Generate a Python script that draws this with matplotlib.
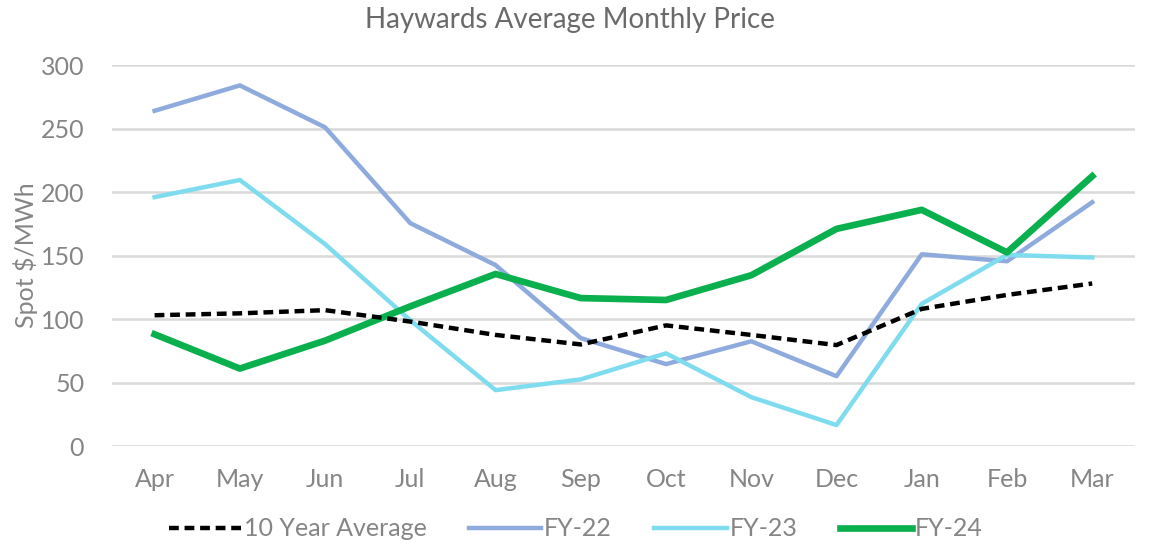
import matplotlib
matplotlib.use("Agg")
import matplotlib.pyplot as plt

months = ['Apr', 'May', 'Jun', 'Jul', 'Aug', 'Sep', 'Oct', 'Nov', 'Dec', 'Jan', 'Feb', 'Mar']
avg_10yr = [103, 104.5, 107, 98, 87.5, 80, 95, 87.5, 79.5, 108, 119, 128]
fy22 = [264, 284, 251, 175.5, 142.5, 85, 64.5, 82.5, 55, 151, 145.5, 192]
fy23 = [196, 209.5, 159, 99, 44, 52.5, 73, 38.5, 16.5, 112, 150.5, 148.5]
fy24 = [88, 61, 83, 110, 135.5, 116.5, 115, 134.5, 171, 186, 152.5, 212.5]

txt = '#858585'
plt.rcParams['font.family'] = ['Lato', 'DejaVu Sans']

fig = plt.figure(figsize=(11.58, 5.47), dpi=100)
ax = fig.add_axes([0.0967, 0.1846, 0.8833, 0.6964])

x = range(len(months))
ax.plot(x, fy22, color='#8FAADC', lw=3.2, label='FY-22', zorder=3)
ax.plot(x, fy23, color='#7FDCEE', lw=3.2, label='FY-23', zorder=3)
ax.plot(x, fy24, color='#0AB04E', lw=4.8, label='FY-24', zorder=4)
ax.plot(x, avg_10yr, color='black', lw=3.2, ls=(0, (2.2, 1.3)), label='10 Year Average', zorder=5)

ax.set_xlim(-0.5, 11.5)
ax.set_ylim(0, 300)
ax.set_yticks(range(0, 301, 50))
ax.set_xticks(list(x))
ax.set_xticklabels(months)
ax.grid(axis='y', color='#d9d9d9', lw=1.8)
ax.set_axisbelow(True)
for s in ax.spines.values():
    s.set_visible(False)
ax.tick_params(length=0, labelsize=18, colors=txt, pad=16)
ax.tick_params(axis='y', pad=20)

ax.set_ylabel('Spot $/MWh', fontsize=18, color=txt)
ax.yaxis.set_label_coords(-0.072, 0.5)
fig.text(0.492, 0.964, 'Haywards Average Monthly Price', ha='center', va='center',
         fontsize=20, color='#6a6a6a')

h, l = ax.get_legend_handles_labels()
order = [3, 0, 1, 2]
leg = fig.legend([h[i] for i in order], [l[i] for i in order], loc='center',
                 bbox_to_anchor=(0.497, 0.033), ncol=4, frameon=False,
                 fontsize=18, handlelength=2.9, handletextpad=0.1, columnspacing=1.7)
for t in leg.get_texts():
    t.set_color(txt)

fig.savefig('out.png', dpi=100)
